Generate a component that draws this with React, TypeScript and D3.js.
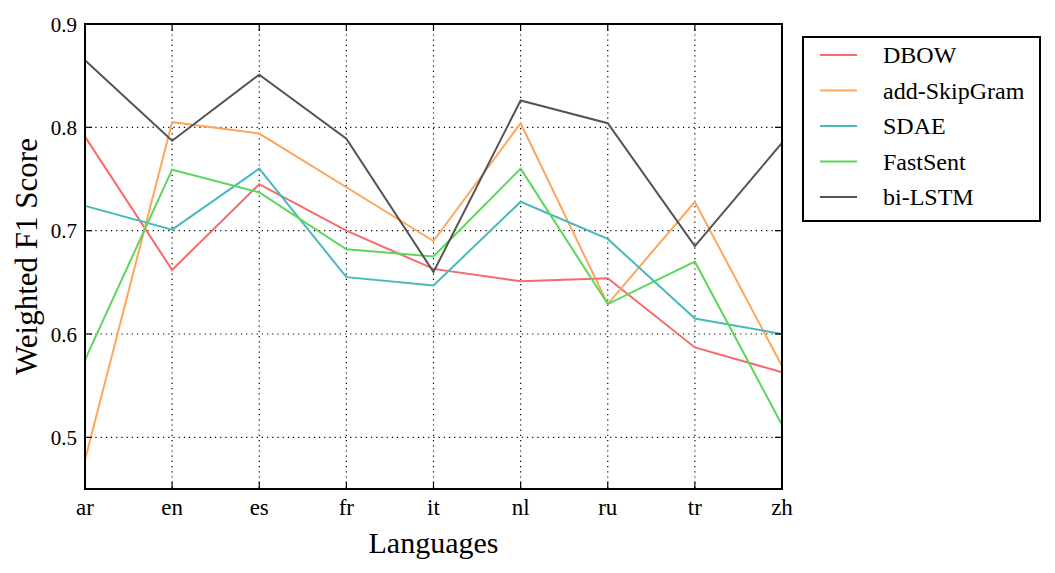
import React from "react";
import * as d3 from "d3";

const languages = ["ar", "en", "es", "fr", "it", "nl", "ru", "tr", "zh"];
const yTicks = [0.5, 0.6, 0.7, 0.8, 0.9];

const dbow = [0.791, 0.662, 0.745, 0.700, 0.663, 0.651, 0.654, 0.587, 0.563];
const addSkipGram = [0.478, 0.805, 0.794, 0.742, 0.690, 0.804, 0.629, 0.728, 0.569];
const sdae = [0.724, 0.701, 0.760, 0.655, 0.647, 0.728, 0.692, 0.615, 0.600];
const fastSent = [0.575, 0.759, 0.737, 0.682, 0.675, 0.760, 0.629, 0.670, 0.512];
const biLSTM = [0.865, 0.787, 0.851, 0.789, 0.660, 0.826, 0.804, 0.685, 0.785];

const seriesNames = ["DBOW", "add-SkipGram", "SDAE", "FastSent", "bi-LSTM"];
const seriesValues = [dbow, addSkipGram, sdae, fastSent, biLSTM];
const seriesColors = ["#f9686a", "#fda65c", "#47b9bd", "#5bd75a", "#555353"];

export default function App() {
  const W = 1055, H = 573;
  const left = 85, right = 782, top = 24, bottom = 489;
  const x = d3.scalePoint<string>().domain(languages).range([left, right]);
  const y = d3.scaleLinear().domain([0.45, 0.9]).range([bottom, top]);
  const line = d3
    .line<number>()
    .x((_, i) => x(languages[i]) as number)
    .y((v) => y(v));
  const font = "'Liberation Serif', 'Times New Roman', serif";
  const tickLen = 7;

  return (
    <svg
      width={W}
      height={H}
      style={{ position: "absolute", left: 0, top: 0, background: "#fff" }}
      fontFamily={font}
    >
      <rect x={0} y={0} width={W} height={H} fill="#fff" />
      {/* grid */}
      {languages.map((l) => (
        <line key={"gx" + l} x1={x(l)} x2={x(l)} y1={top} y2={bottom} stroke="#000" strokeWidth={1.2} strokeDasharray="1.2,4" />
      ))}
      {yTicks.map((t) => (
        <line key={"gy" + t} x1={left} x2={right} y1={y(t)} y2={y(t)} stroke="#000" strokeWidth={1.2} strokeDasharray="1.2,4" />
      ))}
      {/* series */}
      {seriesValues.map((vals, i) => (
        <path key={seriesNames[i]} d={line(vals) || ""} fill="none" stroke={seriesColors[i]} strokeWidth={2} strokeLinejoin="miter" />
      ))}
      {/* ticks */}
      {languages.map((l) => (
        <g key={"tx" + l}>
          <line x1={x(l)} x2={x(l)} y1={bottom} y2={bottom - tickLen} stroke="#000" strokeWidth={1.2} />
          <line x1={x(l)} x2={x(l)} y1={top} y2={top + tickLen} stroke="#000" strokeWidth={1.2} />
          <text x={x(l)} y={515} textAnchor="middle" fontSize={23}>{l}</text>
        </g>
      ))}
      {yTicks.map((t) => (
        <g key={"ty" + t}>
          <line x1={left} x2={left + tickLen} y1={y(t)} y2={y(t)} stroke="#000" strokeWidth={1.2} />
          <line x1={right} x2={right - tickLen} y1={y(t)} y2={y(t)} stroke="#000" strokeWidth={1.2} />
          <text x={left - 8} y={y(t) + 7.5} textAnchor="end" fontSize={21}>{d3.format(".1f")(t)}</text>
        </g>
      ))}
      {/* frame */}
      <rect x={left} y={top} width={right - left} height={bottom - top} fill="none" stroke="#000" strokeWidth={2} />
      {/* axis labels */}
      <text x={(left + right) / 2} y={553} textAnchor="middle" fontSize={30}>Languages</text>
      <text transform={`translate(37,${(top + bottom) / 2}) rotate(-90)`} textAnchor="middle" fontSize={31}>Weighted F1 Score</text>
      {/* legend */}
      <rect x={803} y={37} width={237} height={184} fill="#fff" stroke="#000" strokeWidth={2} />
      {seriesNames.map((n, i) => {
        const ly = 55 + i * 35.5;
        return (
          <g key={"lg" + n}>
            <line x1={820} x2={857} y1={ly} y2={ly} stroke={seriesColors[i]} strokeWidth={2} />
            <text x={883} y={ly + 8} fontSize={24}>{n}</text>
          </g>
        );
      })}
    </svg>
  );
}
